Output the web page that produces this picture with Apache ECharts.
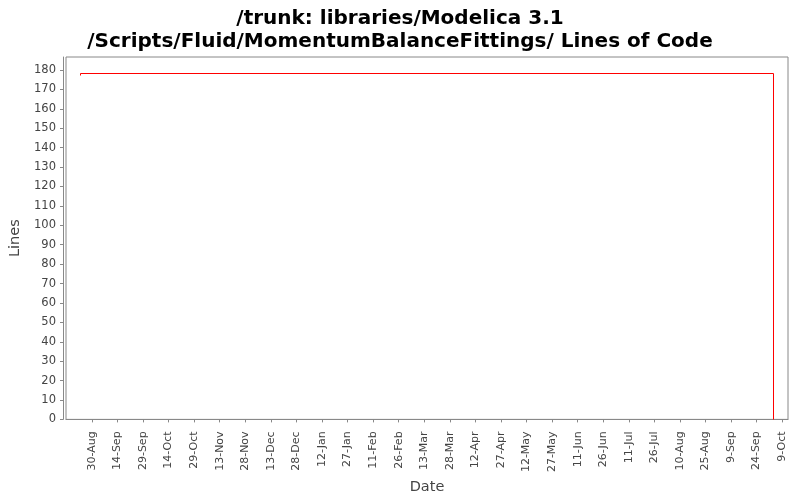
<!DOCTYPE html>
<html>
<head>
<meta charset="utf-8">
<script src="https://cdn.jsdelivr.net/npm/echarts@6/dist/echarts.min.js"></script>
<style>html,body{margin:0;padding:0;background:#fff}#c{width:800px;height:500px}</style>
</head>
<body>
<div id="c"></div>
<script>
// Data
var dates = ['2009-08-23T09:00', '2009-08-23T09:30', '2010-10-03T19:00', '2010-10-03T19:30'];
var values = [177, 178, 178, 0];
var xTickDates = ['2009-08-30','2009-09-14','2009-09-29','2009-10-14','2009-10-29','2009-11-13','2009-11-28','2009-12-13','2009-12-28','2010-01-12','2010-01-27','2010-02-11','2010-02-26','2010-03-13','2010-03-28','2010-04-12','2010-04-27','2010-05-12','2010-05-27','2010-06-11','2010-06-26','2010-07-11','2010-07-26','2010-08-10','2010-08-25','2010-09-09','2010-09-24','2010-10-09'];
var yTicks = [0,10,20,30,40,50,60,70,80,90,100,110,120,130,140,150,160,170,180];
var xMinDate = '2009-08-14T19:00';
var xMaxDate = '2010-10-12T10:00';

function toMs(s) {
  var p = s.split('T');
  var d = p[0].split('-').map(Number);
  var h = 0, m = 0;
  if (p[1]) { var t = p[1].split(':').map(Number); h = t[0]; m = t[1]; }
  return Date.UTC(d[0], d[1] - 1, d[2], h, m);
}
var MONTHS = ['Jan','Feb','Mar','Apr','May','Jun','Jul','Aug','Sep','Oct','Nov','Dec'];
function fmt(v) {
  var d = new Date(v);
  return d.getUTCDate() + '-' + MONTHS[d.getUTCMonth()];
}
var seriesData = dates.map(function (d, i) { return [toMs(d), values[i]]; });
var xTicks = xTickDates.map(toMs);

function crisp(v) { return Math.round(v - 0.5) + 0.5; }

// Whole step line (horizontal, then vertical) built from all points through the axes
function renderStep(params, api) {
  if (params.dataIndexInside !== 0) return null;
  var n = params.dataInsideLength;
  var pts = [];
  var prev = null;
  for (var i = 0; i < n; i++) {
    var p = api.coord([api.value(0, i), api.value(1, i)]);
    var x = crisp(p[0]), y = crisp(p[1]);
    if (prev) pts.push([x, prev[1]]);
    pts.push([x, y]);
    prev = [x, y];
  }
  return {
    type: 'polyline',
    silent: true,
    shape: { points: pts },
    style: { stroke: '#ff0000', lineWidth: 1, fill: null }
  };
}

var chart = echarts.init(document.getElementById('c'));
chart.setOption({
  animation: false,
  backgroundColor: '#fff',
  color: ['#ff0000'],
  title: {
    text: '/trunk: libraries/Modelica 3.1\n/Scripts/Fluid/MomentumBalanceFittings/ Lines of Code',
    left: 'center',
    top: 2,
    textStyle: { fontFamily: 'DejaVu Sans', fontWeight: 'bold', fontSize: 20, lineHeight: 23, color: '#000' }
  },
  grid: {
    left: 66, right: 12, top: 57, bottom: 79,
    show: true, borderColor: '#888', borderWidth: 1, backgroundColor: '#fff'
  },
  xAxis: {
    type: 'value',
    min: toMs(xMinDate),
    max: toMs(xMaxDate),
    offset: 3,
    name: 'Date',
    nameLocation: 'middle',
    nameGap: 55,
    nameTextStyle: { fontFamily: 'DejaVu Sans', fontSize: 14.5, color: '#444' },
    axisLine: { show: true, lineStyle: { color: '#888' } },
    axisTick: { show: true, length: 3, lineStyle: { color: '#888' }, customValues: xTicks },
    axisLabel: {
      rotate: 90, margin: 9, fontFamily: 'DejaVu Sans', fontSize: 11, color: '#444',
      customValues: xTicks, formatter: fmt
    },
    splitLine: { show: false }
  },
  yAxis: {
    type: 'value',
    min: 0,
    max: 186.7,
    offset: 3,
    name: 'Lines',
    nameLocation: 'middle',
    nameGap: 36,
    nameTextStyle: { fontFamily: 'DejaVu Sans', fontSize: 14.5, color: '#444' },
    axisLine: { show: true, lineStyle: { color: '#888' } },
    axisTick: { show: true, length: 3, lineStyle: { color: '#888' }, customValues: yTicks },
    axisLabel: { margin: 7, fontFamily: 'DejaVu Sans', fontSize: 11.5, color: '#444', customValues: yTicks },
    splitLine: { show: false }
  },
  series: [{
    type: 'custom',
    silent: true,
    emphasis: { disabled: true },
    data: seriesData,
    encode: { x: 0, y: 1 },
    itemStyle: { color: '#ff0000', borderColor: '#ff0000' },
    renderItem: renderStep
  }]
});
</script>
</body>
</html>
